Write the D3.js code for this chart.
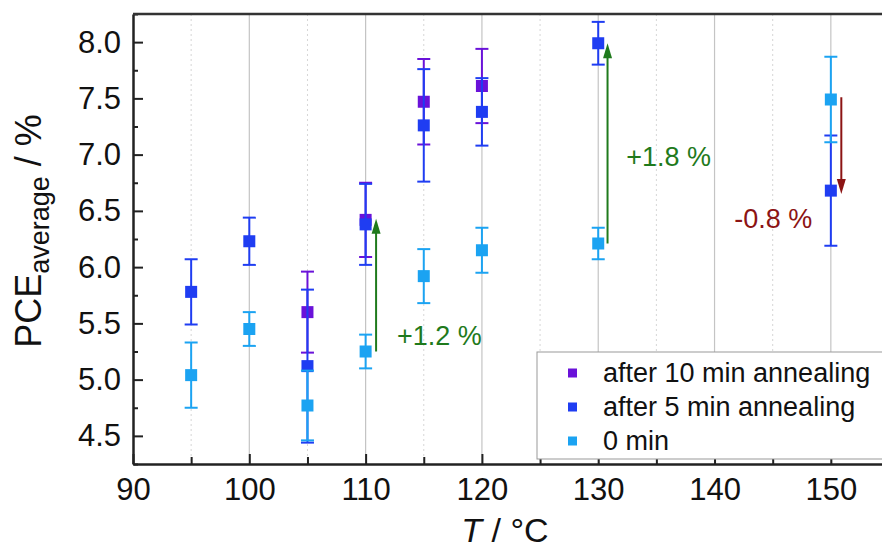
<!DOCTYPE html>
<html>
<head>
<meta charset="utf-8">
<script src="https://cdn.jsdelivr.net/npm/d3@7"></script>
<style>
  body { margin: 0; background: #fff; }
  svg { display: block; font-family: Arial, "Liberation Sans", sans-serif; }
</style>
</head>
<body>
<svg id="chart"></svg>
<script>
// temperatures (°C) and average PCE (%) with error bars
var temps_0 = [95, 100, 105, 110, 115, 120, 130, 150];
var pce_0   = [5.04, 5.45, 4.77, 5.25, 5.92, 6.15, 6.21, 7.49];
var err_0   = [0.29, 0.15, 0.31, 0.15, 0.24, 0.20, 0.14, 0.38];

var temps_5 = [95, 100, 105, 110, 115, 120, 130, 150];
var pce_5   = [5.78, 6.23, 5.12, 6.38, 7.26, 7.38, 7.99, 6.68];
var err_5   = [0.29, 0.21, 0.68, 0.36, 0.50, 0.30, 0.19, 0.49];

var temps_10 = [105, 110, 115, 120];
var pce_10   = [5.60, 6.42, 7.47, 7.61];
var err_10   = [0.36, 0.33, 0.38, 0.33];

// arrows: T, start, end, label
var arrow_t     = [110.9, 130.8, 150.9];
var arrow_from  = [5.25, 6.21, 7.51];
var arrow_to    = [6.43, 7.99, 6.65];
var arrow_label = ["+1.2 %", "+1.8 %", "-0.8 %"];
var label_t     = [112.7, 132.4, 148.4];
var label_v     = [5.31, 6.90, 6.35];

var x_ticks = [90, 100, 110, 120, 130, 140, 150];
var y_ticks = [4.5, 5.0, 5.5, 6.0, 6.5, 7.0, 7.5, 8.0];

var w = 882, h = 548;
var colors = {
  "purple": "#6a12d9",
  "blue": "#1f3df2",
  "light": "#1ba3f2",
  "green": "#1f7a1c",
  "red": "#8c1414"
};

var series = [
  { name: "after 10 min annealing", t: temps_10, v: pce_10, e: err_10, color: colors.purple },
  { name: "after 5 min annealing", t: temps_5, v: pce_5, e: err_5, color: colors.blue },
  { name: "0 min", t: temps_0, v: pce_0, e: err_0, color: colors.light }
];

var svg = d3.select("#chart").attr("width", w).attr("height", h);

var x = d3.scaleLinear().domain([90, 155]).range([133, 889]);
var y = d3.scaleLinear().domain([4.25, 8.25]).range([464, 14]);

// grid lines
svg.append("g").selectAll("line")
  .data(d3.range(95, 155, 10))
  .join("line")
  .attr("x1", d => x(d)).attr("x2", d => x(d))
  .attr("y1", y(8.25)).attr("y2", y(4.25))
  .attr("stroke", "#d6d6d6").attr("stroke-width", 1)
  .attr("stroke-dasharray", "2,3");
svg.append("g").selectAll("line")
  .data(d3.range(100, 160, 10))
  .join("line")
  .attr("x1", d => x(d)).attr("x2", d => x(d))
  .attr("y1", y(8.25)).attr("y2", y(4.25))
  .attr("stroke", "#c4c4c4").attr("stroke-width", 1.2);

// axes (ticks inward)
var xAxis = svg.append("g").attr("transform", "translate(0," + y(4.25) + ")")
  .call(d3.axisBottom(x).tickValues(d3.range(90, 156, 5)).tickSizeInner(-7).tickSizeOuter(0).tickFormat(""));
xAxis.selectAll(".tick line").filter(d => d % 10 == 0).attr("y2", -10);
var xLabels = svg.append("g").attr("transform", "translate(0," + y(4.25) + ")")
  .call(d3.axisBottom(x).tickValues(x_ticks).tickSize(0).tickPadding(14).tickFormat(d3.format("d")));
xLabels.select(".domain").remove();

var yAxis = svg.append("g").attr("transform", "translate(" + x(90) + ",0)")
  .call(d3.axisLeft(y).tickValues(d3.range(4.25, 8.26, 0.25)).tickSizeInner(-5).tickSizeOuter(0).tickFormat(""));
yAxis.selectAll(".tick line").filter(d => Math.abs(d * 2 - Math.round(d * 2)) < 1e-6).attr("x2", 10);
var yLabels = svg.append("g").attr("transform", "translate(" + x(90) + ",0)")
  .call(d3.axisLeft(y).tickValues(y_ticks).tickSize(0).tickPadding(12).tickFormat(d3.format(".1f")));
yLabels.select(".domain").remove();

svg.selectAll(".tick text").attr("font-size", 31).attr("fill", "#111")
  .attr("font-family", "Arial, 'Liberation Sans', sans-serif");
svg.selectAll(".domain").attr("stroke", "#222").attr("stroke-width", 2.5);
svg.selectAll(".tick line").attr("stroke", "#222").attr("stroke-width", 2);

// top frame
svg.append("line")
  .attr("x1", x(90)).attr("x2", x(155))
  .attr("y1", y(8.25)).attr("y2", y(8.25))
  .attr("stroke", "#333").attr("stroke-width", 2.5);

// axis titles
svg.append("text")
  .attr("x", 505).attr("y", 542)
  .attr("text-anchor", "middle").attr("font-size", 34).attr("fill", "#111")
  .call(t => {
    t.append("tspan").attr("font-style", "italic").text("T");
    t.append("tspan").text(" / °C");
  });
svg.append("text")
  .attr("transform", "translate(41," + 231 + ") rotate(-90)")
  .attr("text-anchor", "middle").attr("font-size", 36).attr("fill", "#111")
  .call(t => {
    t.append("tspan").text("PCE");
    t.append("tspan").attr("font-size", 27).attr("dy", 8).text("average");
    t.append("tspan").attr("dy", -8).text(" / %");
  });

// error bars and markers
var cap = 6.5, msize = 12;
series.forEach(function(s) {
  var g = svg.append("g");
  var pts = s.t.map((t, i) => ({ t: t, v: s.v[i], e: s.e[i] }));
  g.selectAll(".bar").data(pts).join("line")
    .attr("x1", d => x(d.t)).attr("x2", d => x(d.t))
    .attr("y1", d => y(d.v - d.e)).attr("y2", d => y(d.v + d.e))
    .attr("stroke", s.color).attr("stroke-width", 2);
  g.selectAll(".capt").data(pts).join("line")
    .attr("x1", d => x(d.t) - cap).attr("x2", d => x(d.t) + cap)
    .attr("y1", d => y(d.v + d.e)).attr("y2", d => y(d.v + d.e))
    .attr("stroke", s.color).attr("stroke-width", 2);
  g.selectAll(".capb").data(pts).join("line")
    .attr("x1", d => x(d.t) - cap).attr("x2", d => x(d.t) + cap)
    .attr("y1", d => y(d.v - d.e)).attr("y2", d => y(d.v - d.e))
    .attr("stroke", s.color).attr("stroke-width", 2);
  g.selectAll("rect").data(pts).join("rect")
    .attr("x", d => x(d.t) - msize / 2).attr("y", d => y(d.v) - msize / 2)
    .attr("width", msize).attr("height", msize)
    .attr("fill", s.color);
});

// arrows
var arrows = arrow_t.map((t, i) => ({ t: t, a: arrow_from[i], b: arrow_to[i],
  label: arrow_label[i], lt: label_t[i], lv: label_v[i],
  color: arrow_to[i] > arrow_from[i] ? colors.green : colors.red }));
arrows.forEach(function(d) {
  var dir = d.b > d.a ? 1 : -1;
  var x0 = x(d.t), ya = y(d.a), yb = y(d.b);
  var head = 15;
  svg.append("line")
    .attr("x1", x0).attr("x2", x0)
    .attr("y1", ya).attr("y2", yb + dir * head * 0.8)
    .attr("stroke", d.color).attr("stroke-width", 2);
  svg.append("path")
    .attr("d", "M" + x0 + "," + yb + "L" + (x0 - 4.5) + "," + (yb + dir * head) +
      "L" + (x0 + 4.5) + "," + (yb + dir * head) + "Z")
    .attr("fill", d.color);
  svg.append("text")
    .attr("x", x(d.lt)).attr("y", y(d.lv))
    .attr("text-anchor", dir > 0 ? "start" : "end")
    .attr("font-size", 27).attr("fill", d.color)
    .text(d.label);
});

// legend
var lg = svg.append("g");
lg.append("rect")
  .attr("x", 537).attr("y", 352).attr("width", 360).attr("height", 107)
  .attr("fill", "#fff").attr("stroke", "#999").attr("stroke-width", 1);
series.forEach(function(s, i) {
  var cy = 373 + i * 34;
  lg.append("rect").attr("x", 568).attr("y", cy - 4.5)
    .attr("width", 9).attr("height", 9).attr("fill", s.color);
  lg.append("text").attr("x", 603).attr("y", cy + 9)
    .attr("font-size", 27).attr("fill", "#111").text(s.name);
});
</script>
</body>
</html>
